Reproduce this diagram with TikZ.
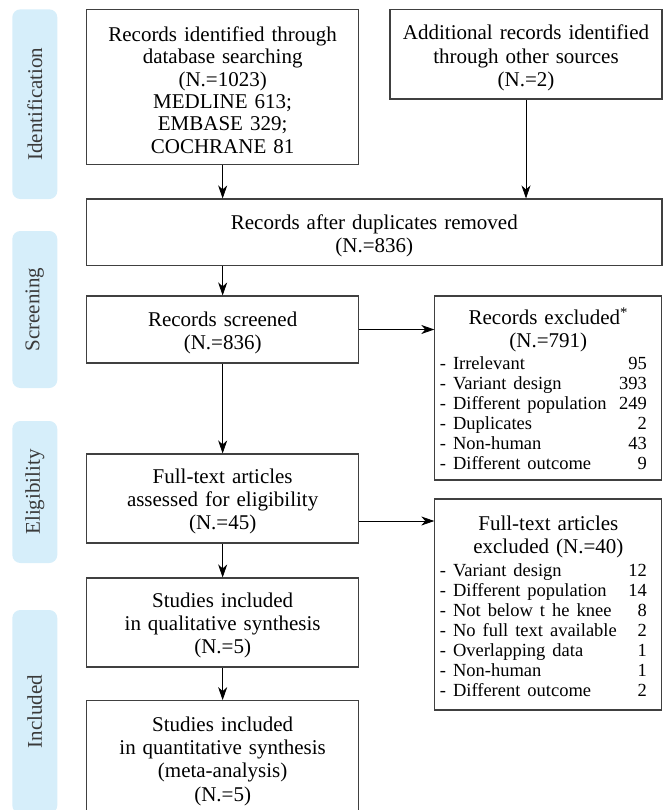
\documentclass[tikz,border=0pt]{standalone}
\usepackage{fontspec}
\setmainfont{Liberation Serif}
\usetikzlibrary{arrows.meta,positioning}
\definecolor{tabblue}{HTML}{D6EEFA}
\definecolor{boxline}{HTML}{404040}
\definecolor{tabtext}{HTML}{3A3A3A}
\newcommand{\exitem}[2]{\makebox[217pt][l]{\makebox[207pt]{#1\hfill #2}}}
\newcommand{\listfont}{\fontsize{18.5}{20}\selectfont}

\begin{document}
\begin{tikzpicture}[x = 1pt, y = -1pt, style={font=\fontsize{21}{23.2}\selectfont},
  box/.style={draw=boxline, line width=1.1pt, align=center, inner xsep=5pt, inner ysep=0pt},
  mainbox/.style={box, text width=262pt, minimum height=#1, text height=21pt},
  listbox/.style={box, text width=217pt, minimum height=#1, text height=18.5pt},
  tab/.style={fill=tabblue, rounded corners=8pt, rotate=90, minimum height=45pt, text=tabtext},
  arr/.style={-{Stealth[length=13pt, width=9pt, inset=4pt]}, line width=0.8pt}]
\clip (0,0) rectangle (663,810);
% Phase tabs
\node[tab, minimum width=189.7pt] (identtab) at (34.8, 104.2) {Identification};
\node[tab, minimum width=157pt] (screentab) at (34.8, 309.5) {Screening};
\node[tab, minimum width=142pt] (eligtab) at (34.8, 492) {Eligibility};
\node[tab, minimum width=203.4pt] (incltab) at (34.8, 711.7) {Included};
% Identification
\node[mainbox=155.4pt, font=\fontsize{21}{22.4}\selectfont] (dbsearch) at (222.65, 87) {Records identified through\\database searching\\(N.=1023)\\MEDLINE 613;\\EMBASE 329;\\COCHRANE 81};
\node[mainbox=89.7pt, text height=22.5pt] (othersrc) at (526, 54.15) {Additional records identified\\through other sources\\(N.=2)};
\node[mainbox=66.7pt, text width=565.3pt] (dupremoved) at (374.35, 232.35) {Records after duplicates removed\\(N.=836)};
% Screening
\node[mainbox=67pt] (screened) at (222.65, 329.5) {Records screened\\(N.=836)};
\node[listbox=184pt] (excluded) at (548.35, 388) {Records excluded\textsuperscript{*}\\(N.=791)\par
  \vspace{2pt}\listfont
  \exitem{- Irrelevant}{95}\\
  \exitem{- Variant design}{393}\\
  \exitem{- Different population}{249}\\
  \exitem{- Duplicates}{2}\\
  \exitem{- Non-human}{43}\\
  \exitem{- Different outcome}{9}\par};
% Eligibility
\node[mainbox=89pt] (fulltext) at (222.65, 498.5) {Full-text articles\\assessed for eligibility\\(N.=45)};
\node[listbox=211pt] (ftexcluded) at (548.35, 604.5) {Full-text articles\\excluded (N.=40)\par
  \vspace{3pt}\listfont
  \exitem{- Variant design}{12}\\
  \exitem{- Different population}{14}\\
  \exitem{- Not below t he knee}{8}\\
  \exitem{- No full text available}{2}\\
  \exitem{- Overlapping data}{1}\\
  \exitem{- Non-human}{1}\\
  \exitem{- Different outcome}{2}\par};
% Included
\node[mainbox=89pt] (qualit) at (222.65, 622.5) {Studies included\\in qualitative synthesis\\(N.=5)};
\node[mainbox=114.6pt] (quantit) at (222.65, 758) {Studies included\\in quantitative synthesis\\(meta-analysis)\\(N.=5)};
% Arrows
\draw[arr] (dbsearch) -- (dbsearch.south |- dupremoved.north);
\draw[arr] (othersrc) -- (othersrc.south |- dupremoved.north);
\draw[arr] (dbsearch.south |- dupremoved.south) -- (screened);
\draw[arr] (screened) -- (excluded.west |- screened.east);
\draw[arr] (screened) -- (fulltext);
\draw[arr] ([yshift=-22.5pt]fulltext.east) -- ([yshift=-22.5pt]fulltext.east -| ftexcluded.west);
\draw[arr] (fulltext) -- (qualit);
\draw[arr] (qualit) -- (quantit);
\end{tikzpicture}
\end{document}
